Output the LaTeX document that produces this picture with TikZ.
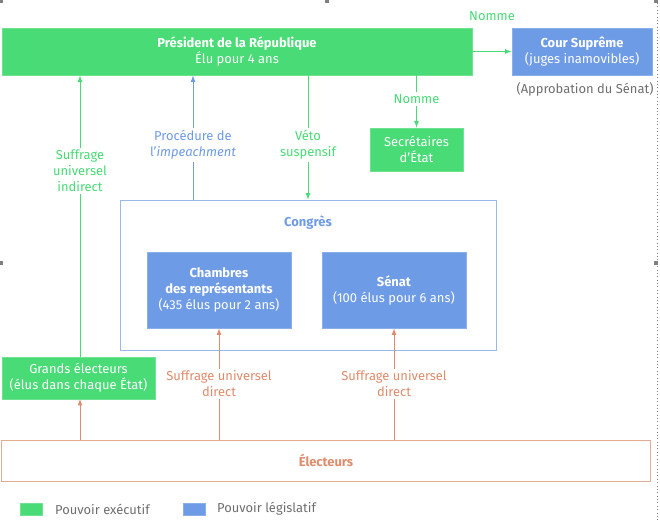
\documentclass[tikz,border=0pt]{standalone}
\usepackage{fontspec}
\setmainfont{Fira Sans}
\usepackage{tikz}
\usetikzlibrary{arrows}
\definecolor{execgreen}{RGB}{72,219,118}
\definecolor{legisblue}{RGB}{110,155,230}
\definecolor{voteorange}{RGB}{222,140,108}
\definecolor{notegray}{RGB}{110,110,110}
\newcommand{\fs}{\fontsize{9.2}{11.4}\selectfont}

\begin{document}
\begin{tikzpicture}[x=0.025cm,y=-0.025cm,line width=0.6pt,
    exec/.style={fill=execgreen,draw=execgreen!80!white,text=white,align=center,inner sep=0pt,font=\fs},
    legis/.style={fill=legisblue,draw=legisblue!80!white,text=white,align=center,inner sep=0pt,font=\fs},
    lab/.style={fill=white,align=center,font=\fs,inner sep=1.5pt}]
       \useasboundingbox (0,0) rectangle (660,520);
       \fill[gray] (0,0) rectangle (3,3);
       \fill[gray] (325,0) rectangle (329,3);
       \fill[gray] (654,0) rectangle (658,3);
       \fill[gray] (0,261) rectangle (3,265);
       \fill[gray] (654,261) rectangle (658,265);
       \draw[gray,dotted,line width=0.4pt] (657,3) -- (657,520);

       \node[exec,minimum width=11.75cm,minimum height=1.175cm] (pres) at (237,51.5)
         {\textbf{Président de la République}\\Élu pour 4 ans};
       \node[legis,minimum width=3.5cm,minimum height=1.175cm] (cour) at (582,51.5)
         {\textbf{Cour Suprême}\\(juges inamovibles)};
       \node[font=\fs,text=notegray] (appro) at (585,89) {(Approbation du Sénat)};
       \node[exec,minimum width=2.325cm,minimum height=1.075cm] (secr) at (416.5,149.5)
         {Secrétaires\\d'État};
       \node[draw=legisblue!70!white,fill=white,minimum width=9.4cm,minimum height=3.75cm] (congres) at (308,275) {};
       \node[font=\fs\bfseries,text=legisblue] (congrestitre) at (308,223) {Congrès};
       \node[legis,minimum width=3.6cm,minimum height=1.9cm] (chambres) at (219,290)
         {\textbf{Chambres}\\\textbf{des représentants}\\(435 élus pour 2 ans)};
       \node[legis,minimum width=3.6cm,minimum height=1.9cm] (senat) at (394,290)
         {\textbf{Sénat}\\(100 élus pour 6 ans)};
       \node[exec,minimum width=3.825cm,minimum height=1.05cm] (grands) at (78.5,378)
         {Grands électeurs\\(élus dans chaque État)};
       \node[draw=voteorange!75!white,text=voteorange,font=\fs\bfseries,minimum width=16.2cm,minimum height=1.025cm] (electeurs) at (326,460.5)
         {Électeurs};

       \coordinate (impbas) at (193,200);
       \coordinate (indbas) at (80,357);
       \coordinate (indhaut) at (80,399);

       \draw[execgreen,-latex] (pres.east) -- (cour.west)
         node[midway,above=0.75cm,font=\fs,inner sep=0pt] {Nomme};
       \draw[execgreen,-latex] (pres.south -| secr.north) -- (secr.north)
         node[lab,pos=0.45] {Nomme};
       \draw[execgreen,-latex] (indbas) -- (indbas |- pres.south)
         node[lab,pos=0.66] {Suffrage\\universel\\indirect};
       \draw[legisblue,-latex] (impbas) -- (impbas |- pres.south)
         node[lab,pos=0.44] {Procédure de\\l'\textit{impeachment}};
       \draw[execgreen,-latex] (pres.south -| congres.north) -- (congres.north)
         node[lab,pos=0.56] {Véto\\suspensif};

       \draw[voteorange,-latex] (indhaut |- electeurs.north) -- (indhaut);
       \draw[voteorange,-latex] (electeurs.north -| chambres.south) -- (chambres.south)
         node[lab,midway] {Suffrage universel\\direct};
       \draw[voteorange,-latex] (electeurs.north -| senat.south) -- (senat.south)
         node[lab,midway] {Suffrage universel\\direct};

       \node[fill=execgreen,draw=execgreen!80!white,minimum width=0.55cm,minimum height=0.3cm,inner sep=0pt] (legexec) at (31,509) {};
       \node[font=\fs,text=notegray,anchor=west] (legexectxt) at (50,509) {Pouvoir exécutif};
       \node[fill=legisblue,draw=legisblue!80!white,minimum width=0.55cm,minimum height=0.3cm,inner sep=0pt] (leglegis) at (194.5,509) {};
       \node[font=\fs,text=notegray,anchor=west] (leglegistxt) at (212,509) {Pouvoir législatif};
      \end{tikzpicture}
\end{document}
